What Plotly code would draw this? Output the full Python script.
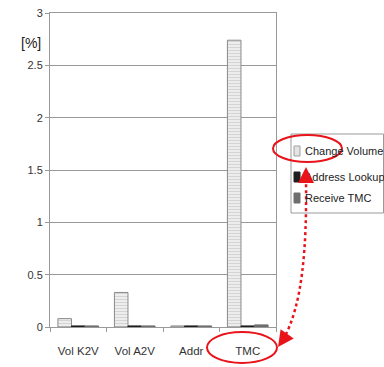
import plotly.graph_objects as go

categories = ["Vol K2V", "Vol A2V", "Addr", "TMC"]
series_names = ["Change Volume", "Address Lookup", "Receive TMC"]
change_volume = [0.08, 0.33, 0.01, 2.74]
address_lookup = [0.01, 0.01, 0.01, 0.01]
receive_tmc = [0.01, 0.01, 0.01, 0.02]
y_ticks = [0, 0.5, 1, 1.5, 2, 2.5, 3]
y_tick_labels = ["0", "0.5", "1", "1.5", "2", "2.5", "3"]

W, H = 384, 367
# plot area in screen pixels: x 50..276, y 13..327
L, T = 50, 13
R, B = W - 276, H - 327
PW, PH = W - L - R, H - T - B

def px(x):
    """screen pixel x -> paper x"""
    return (x - L) / PW

def py(y):
    """screen pixel y -> paper y"""
    return (H - B - y) / PH

FONT = "Liberation Sans, Arial, sans-serif"
RED = "#e8141a"

cv_marker = dict(color="#ededed", line=dict(color="#8a8a8a", width=1),
                 pattern=dict(shape="-", fgcolor="#b5b5b5", size=3, solidity=0.3))
al_marker = dict(color="#1e1e1e", line=dict(color="#1e1e1e", width=1))
rt_marker = dict(color="#6e6e6e", line=dict(color="#6e6e6e", width=1))

fig = go.Figure()
fig.add_trace(go.Bar(name=series_names[0], x=categories, y=change_volume, marker=cv_marker))
fig.add_trace(go.Bar(name=series_names[1], x=categories, y=address_lookup, marker=al_marker))
fig.add_trace(go.Bar(name=series_names[2], x=categories, y=receive_tmc, marker=rt_marker))

# legend box
fig.add_shape(type="rect", xref="paper", yref="paper",
              x0=px(291), x1=px(383.5), y0=py(213), y1=py(134),
              line=dict(color="#9a9a9a", width=1), fillcolor="white", layer="above")
swatch_fill = ["#e4e4e4", "#1e1e1e", "#6e6e6e"]
swatch_line = ["#a0a0a0", "#1e1e1e", "#6e6e6e"]
legend_rows = [151, 177, 198]
for name, fill, ln, yc in zip(series_names, swatch_fill, swatch_line, legend_rows):
    fig.add_shape(type="rect", xref="paper", yref="paper",
                  x0=px(294), x1=px(300), y0=py(yc + 5), y1=py(yc - 5),
                  line=dict(color=ln, width=1), fillcolor=fill, layer="above")
    fig.add_annotation(x=px(302.5), y=py(yc), xref="paper", yref="paper", text=name,
                       showarrow=False, xanchor="left", yanchor="middle",
                       font=dict(family=FONT, size=11, color="#222"))

# red ellipses
fig.add_shape(type="circle", xref="paper", yref="paper",
              x0=px(273), x1=px(342), y0=py(162), y1=py(135),
              line=dict(color=RED, width=2))
fig.add_shape(type="circle", xref="paper", yref="paper",
              x0=px(207), x1=px(277), y0=py(363), y1=py(332),
              line=dict(color=RED, width=2))

def P(x, y):
    return f"{px(x):.4f},{py(y):.4f}"

path = f"M {P(306, 178)} C {P(307, 250)} {P(302, 305)} {P(284, 338)}"
fig.add_shape(type="path", xref="paper", yref="paper", path=path,
              line=dict(color=RED, width=2.5, dash="dot"))

fig.add_annotation(x=px(306), y=py(167), xref="paper", yref="paper", text="",
                   showarrow=True, arrowhead=2, arrowsize=1.6, arrowwidth=2,
                   arrowcolor=RED, ax=0, ay=12)
fig.add_annotation(x=px(278), y=py(347), xref="paper", yref="paper", text="",
                   showarrow=True, arrowhead=2, arrowsize=1.6, arrowwidth=2,
                   arrowcolor=RED, ax=7, ay=-10)

fig.add_annotation(x=px(19), y=py(33), xref="paper", yref="paper", text="[%]",
                   showarrow=False, font=dict(family=FONT, size=14, color="#222"))

fig.update_layout(
    width=W, height=H,
    margin=dict(l=L, r=R, t=T, b=B, autoexpand=False),
    paper_bgcolor="white", plot_bgcolor="white",
    barmode="group", bargap=0.28, bargroupgap=0.0,
    font=dict(family=FONT, size=12, color="#333"),
    showlegend=False,
)
fig.update_xaxes(showline=True, linecolor="#999", linewidth=1, mirror=True,
                 ticks="outside", tickson="boundaries", ticklen=4, tickcolor="#999",
                 tickangle=0, automargin=False, ticklabelstandoff=13,
                 tickfont=dict(family=FONT, size=11.5, color="#333"), showgrid=False)
fig.update_yaxes(range=[0, 3], tickvals=y_ticks, ticktext=y_tick_labels,
                 showline=True, linecolor="#999", linewidth=1, mirror=True,
                 ticks="outside", ticklen=4, tickcolor="#999", automargin=False,
                 ticklabeloverflow="allow",
                 showgrid=True, gridcolor="#999", gridwidth=1,
                 tickfont=dict(family=FONT, size=11, color="#333"), zeroline=False)

fig.write_html(
    "out.html",
    config={"displayModeBar": False},
    post_script="document.body.style.margin='0';document.body.style.overflow='hidden';",
)
